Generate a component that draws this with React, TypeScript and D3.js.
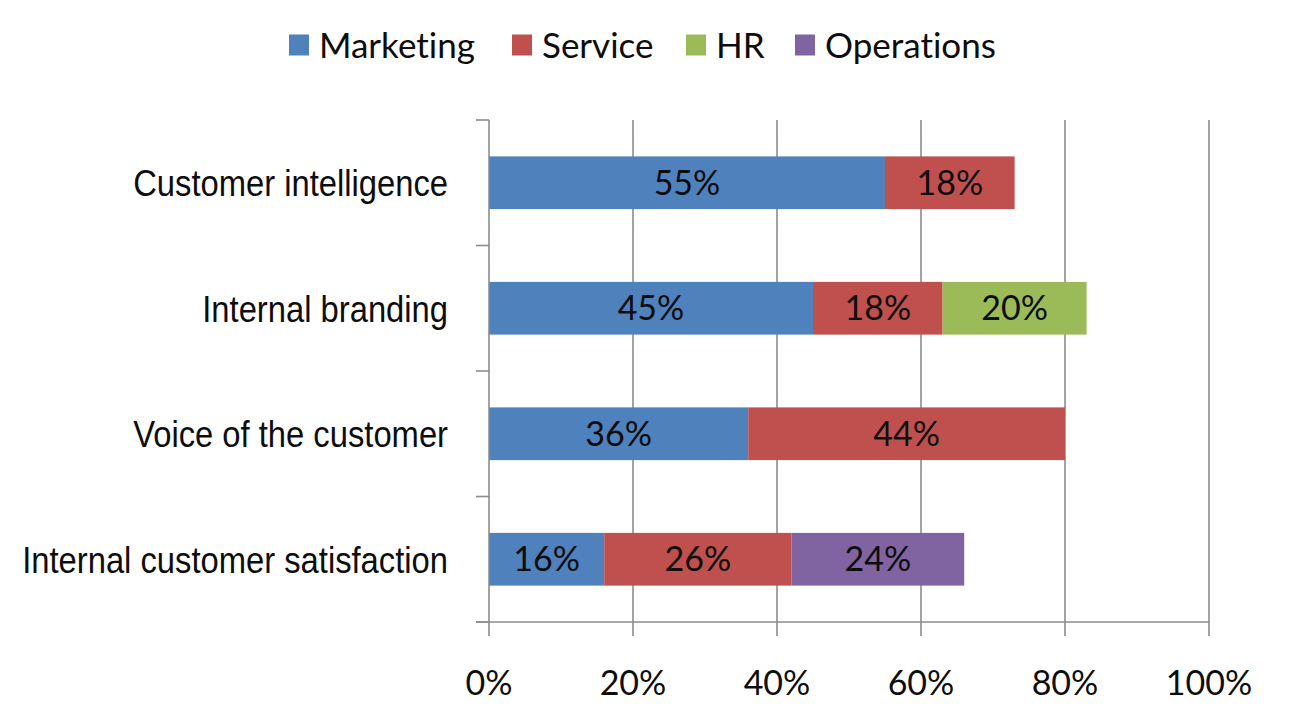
import React, { useEffect, useRef } from "react";
import * as d3 from "d3";

// categories top to bottom
const categories = [
  "Customer intelligence",
  "Internal branding",
  "Voice of the customer",
  "Internal customer satisfaction",
];
const seriesNames = ["Marketing", "Service", "HR", "Operations"];
const seriesColors = ["#4F81BD", "#C0504D", "#9BBB59", "#8064A2"];
const marketing = [55, 45, 36, 16];
const service = [18, 18, 44, 26];
const hr = [0, 20, 0, 0];
const operations = [0, 0, 0, 24];
const xTicks = [0, 20, 40, 60, 80, 100];

const W = 1296;
const H = 712;
const labelFont = "Lato, 'Open Sans', sans-serif";
const catFont = "'Liberation Sans Narrow', 'Liberation Sans', Arial, sans-serif";

export default function App() {
  const ref = useRef<SVGSVGElement>(null);

  useEffect(() => {
    const svg = d3.select(ref.current);
    svg.selectAll("*").remove();

    const margin = { top: 120, right: 87, bottom: 90, left: 489 };
    const innerW = W - margin.left - margin.right;
    const innerH = H - margin.top - margin.bottom;

    const rows = categories.map((c, i) => ({
      cat: c,
      Marketing: marketing[i],
      Service: service[i],
      HR: hr[i],
      Operations: operations[i],
    }));
    const stack = d3.stack<any>().keys(seriesNames)(rows);

    const x = d3.scaleLinear().domain([0, 100]).range([0, innerW]);
    const y = d3
      .scaleBand()
      .domain(categories)
      .range([0, innerH])
      .paddingInner(0.58)
      .paddingOuter(0.29);
    const color = d3.scaleOrdinal<string>().domain(seriesNames).range(seriesColors);

    const g = svg
      .append("g")
      .attr("transform", `translate(${margin.left},${margin.top})`);

    // vertical gridlines (extend below axis as tick marks)
    g.selectAll("line.grid")
      .data(xTicks.slice(1))
      .join("line")
      .attr("class", "grid")
      .attr("x1", (d) => x(d))
      .attr("x2", (d) => x(d))
      .attr("y1", 0)
      .attr("y2", innerH + 14)
      .attr("stroke", "#8c8c8c")
      .attr("stroke-width", 1.6);

    // stacked bars
    const layers = g
      .selectAll("g.layer")
      .data(stack)
      .join("g")
      .attr("class", "layer")
      .attr("fill", (d) => color(d.key));

    layers
      .selectAll("rect")
      .data((d) => d.filter((p) => p[1] - p[0] > 0))
      .join("rect")
      .attr("x", (d) => x(d[0]))
      .attr("width", (d) => x(d[1]) - x(d[0]))
      .attr("y", (d) => y(d.data.cat)!)
      .attr("height", y.bandwidth());

    layers
      .selectAll("text")
      .data((d) => d.filter((p) => p[1] - p[0] > 0))
      .join("text")
      .attr("x", (d) => (x(d[0]) + x(d[1])) / 2)
      .attr("y", (d) => y(d.data.cat)! + y.bandwidth() / 2)
      .attr("dy", "0.36em")
      .attr("text-anchor", "middle")
      .attr("fill", "#0d0d0d")
      .style("font-family", labelFont)
      .style("font-size", "34px")
      .text((d) => `${d[1] - d[0]}%`);

    // y axis line with boundary ticks
    g.append("line")
      .attr("x1", 0)
      .attr("x2", 0)
      .attr("y1", 0)
      .attr("y2", innerH + 14)
      .attr("stroke", "#8c8c8c")
      .attr("stroke-width", 1.6);
    const bounds = d3.range(categories.length + 1).map((i) => (i * innerH) / categories.length);
    g.selectAll("line.ytick")
      .data(bounds)
      .join("line")
      .attr("class", "ytick")
      .attr("x1", -13)
      .attr("x2", 0)
      .attr("y1", (d) => d)
      .attr("y2", (d) => d)
      .attr("stroke", "#8c8c8c")
      .attr("stroke-width", 1.6);

    // x axis line
    g.append("line")
      .attr("x1", -13)
      .attr("x2", innerW)
      .attr("y1", innerH)
      .attr("y2", innerH)
      .attr("stroke", "#8c8c8c")
      .attr("stroke-width", 1.6);

    // x tick labels
    g.selectAll("text.xlab")
      .data(xTicks)
      .join("text")
      .attr("class", "xlab")
      .attr("x", (d) => x(d))
      .attr("y", innerH + 61)
      .attr("dy", "0.36em")
      .attr("text-anchor", "middle")
      .attr("fill", "#0d0d0d")
      .style("font-family", labelFont)
      .style("font-size", "34px")
      .text((d) => `${d}%`);

    // category labels (narrow look: squeeze horizontally)
    g.selectAll("text.ylab")
      .data(categories)
      .join("text")
      .attr("class", "ylab")
      .attr("transform", (d) => `translate(-41,${y(d)! + y.bandwidth() / 2}) scale(0.91,1.04)`)
      .attr("dy", "0.36em")
      .attr("text-anchor", "end")
      .attr("fill", "#0d0d0d")
      .style("font-family", catFont)
      .style("font-size", "36px")
      .text((d) => d);

    // legend
    const legendX = [289, 512, 686, 795];
    const lg = svg
      .selectAll("g.legend")
      .data(seriesNames)
      .join("g")
      .attr("class", "legend")
      .attr("transform", (d, i) => `translate(${legendX[i]},45)`);
    lg.append("rect")
      .attr("x", 0)
      .attr("y", -10.5)
      .attr("width", 20)
      .attr("height", 21)
      .attr("fill", (d) => color(d));
    lg.append("text")
      .attr("x", 30)
      .attr("dy", "0.36em")
      .attr("fill", "#0d0d0d")
      .style("font-family", labelFont)
      .style("font-size", "35px")
      .style("font-variant-ligatures", "none")
      .text((d) => d);
  }, []);

  return (
    <svg
      ref={ref}
      width={W}
      height={H}
      style={{ position: "absolute", left: 0, top: 0, background: "#fff" }}
    />
  );
}
